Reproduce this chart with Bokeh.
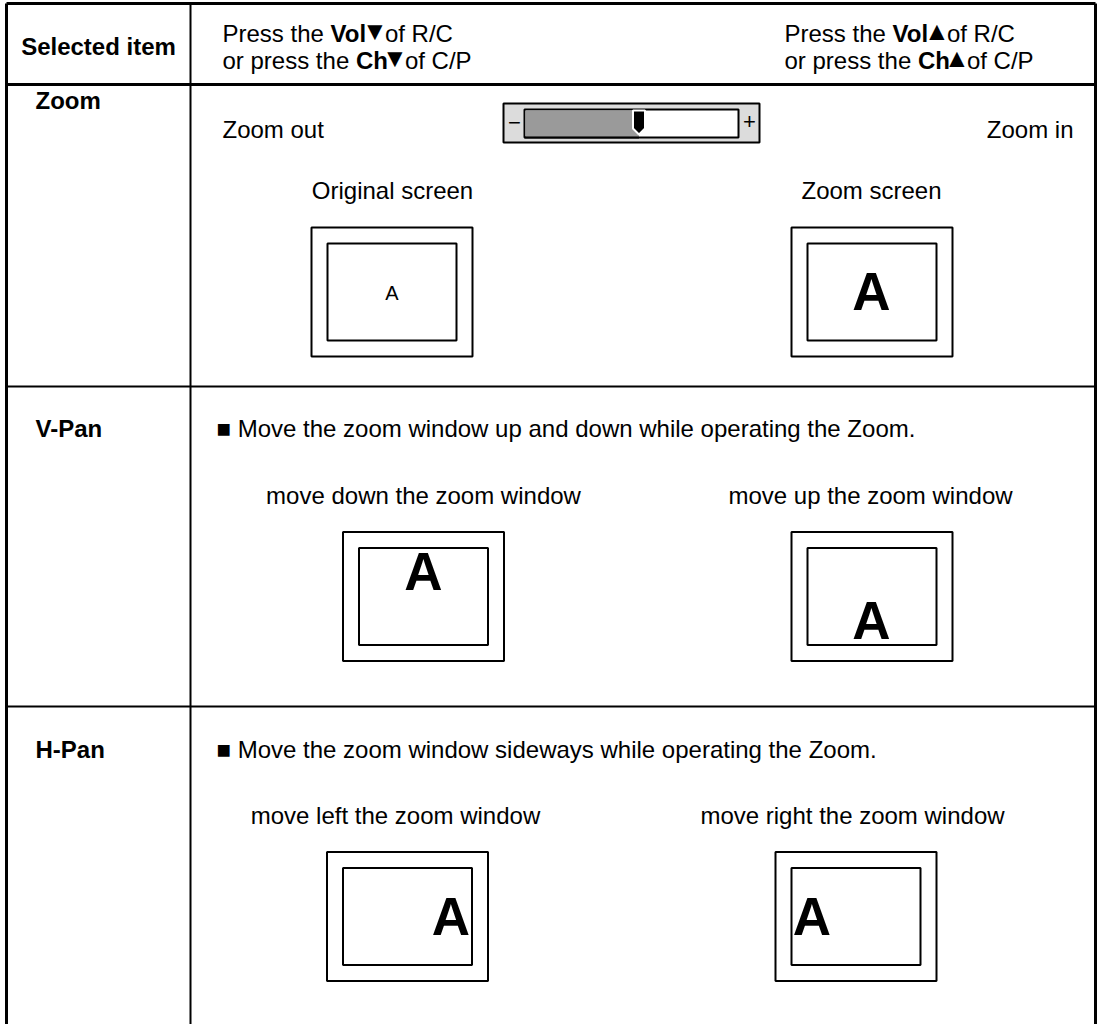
from bokeh.plotting import figure
from bokeh.models import Range1d
from bokeh.core.properties import value
from bokeh.embed import file_html
from bokeh.resources import INLINE

FONT = "Liberation Sans"
FS = 24  # body font size px

# ---- content ----
header_item = "Selected item"
header_left = [[("Press the ", "normal"), ("Vol", "bold"), ("\u25bc", "normal"), (" of R/C", "normal")],
               [("or press the ", "normal"), ("Ch", "bold"), ("\u25bc", "normal"), (" of C/P", "normal")]]
header_right = [[("Press the ", "normal"), ("Vol", "bold"), ("\u25b2", "normal"), (" of R/C", "normal")],
                [("or press the ", "normal"), ("Ch", "bold"), ("\u25b2", "normal"), (" of C/P", "normal")]]
row_labels = ["Zoom", "V-Pan", "H-Pan"]
row_notes = ["", "\u25a0 Move the zoom window up and down while operating the Zoom.",
             "\u25a0 Move the zoom window sideways while operating the Zoom."]
zoom_ends = ["Zoom out", "Zoom in"]
screen_titles = ["Original screen", "Zoom screen",
                 "move down the zoom window", "move up the zoom window",
                 "move left the zoom window", "move right the zoom window"]
zoom_level = 0.535   # share of the slider track that is filled

# ---- layout (reference pixel frame, 1 unit = 1 px) ----
W, H = 1100, 1024
TL, TR, TT = 6, 1095, 3          # table left/right/top
COL = 190                        # column divider
ROW_LINES = [84, 386, 706]
BOTTOM = H

# Arial / Liberation Sans advance widths (1/1000 em)
W_REG = {' ': 278, 'P': 667, 'r': 333, 'e': 556, 's': 500, 't': 278, 'h': 556, 'o': 556,
         'f': 278, 'R': 722, '/': 278, 'C': 722, 'p': 556}
W_BOLD = {'V': 667, 'o': 611, 'l': 278, 'C': 722, 'h': 611}
TRI_SIZE = 26


def seg_width(txt, weight, fs):
    tab = W_BOLD if weight == "bold" else W_REG
    return sum(tab.get(c, 556) for c in txt) / 1000.0 * fs


p = figure(width=W, height=H, x_range=Range1d(0, W), y_range=Range1d(H, 0),
           output_backend="svg", toolbar_location=None, min_border=0,
           x_axis_location=None, y_axis_location=None)
p.grid.visible = False
p.outline_line_color = None
p.background_fill_color = "white"
p.border_fill_color = "white"


def txt(x, y, s, size=FS, weight="normal", align="left", baseline="middle", color="black"):
    p.text(x=[x], y=[y], text=[s], text_font=value(FONT), text_font_size=f"{size}px",
           text_font_style=weight, text_align=align, text_baseline=baseline, text_color=color)


def rect(l, r, t, b, lw=2, fill=None, color="black"):
    p.quad(left=[l], right=[r], top=[t], bottom=[b], fill_color=fill,
           fill_alpha=1.0 if fill else 0.0, line_color=color, line_width=lw)


# ---- table grid ----
p.segment(x0=[TL, TR, COL], y0=[TT, TT, TT], x1=[TL, TR, COL], y1=[BOTTOM, BOTTOM, BOTTOM],
          line_color="black", line_width=[3, 3, 2])
p.segment(x0=[TL], y0=[TT], x1=[TR], y1=[TT], line_color="black", line_width=3)
p.segment(x0=[TL] * 3, y0=ROW_LINES, x1=[TR] * 3, y1=ROW_LINES, line_color="black",
          line_width=[3, 2, 2])

# ---- header ----
txt((TL + COL) / 2, 46, header_item, weight="bold", align="center")


def mixed(x0, y, segs):
    x = x0
    for s, w in segs:
        if s in ("\u25bc", "\u25b2"):
            tx = x - 6
            txt(tx, y - 2.5, s, size=TRI_SIZE, weight="normal")
            x = tx + 23
        else:
            txt(x, y, s, weight=w)
            x += seg_width(s, w, FS)


for i, line in enumerate(header_left):
    mixed(222, [33, 60][i], line)
for i, line in enumerate(header_right):
    mixed(784, [33, 60][i], line)

# ---- row labels & notes ----
label_y = [100, 428, 749]
for lab, ly in zip(row_labels, label_y):
    txt(35, ly, lab, weight="bold")
for note, ly in zip(row_notes, label_y):
    if note:
        txt(216, ly, note)

# ---- Zoom row ----
txt(222, 129, zoom_ends[0])
txt(1073, 129, zoom_ends[1], align="right")

# slider
SL, SR, ST, SB = 503, 759, 103, 142
TLx, TRx, TTy, TBy = 524, 738, 109, 137
rect(SL, SR, ST, SB, lw=2, fill="#dcdcdc")
rect(TLx, TRx, TTy, TBy, lw=2, fill="white")
fill_r = TLx + zoom_level * (TRx - TLx)
p.quad(left=[TLx + 1], right=[fill_r], top=[TTy + 1], bottom=[TBy - 1],
       fill_color="#9a9a9a", line_color=None)
p.line(x=[TLx, fill_r], y=[TBy, TBy], line_color="black", line_width=2)
p.patch(x=[fill_r - 6, fill_r + 6, fill_r + 6, fill_r, fill_r - 6],
        y=[TTy + 1, TTy + 1, 128, 134, 128], fill_color="black", line_color="white", line_width=2)
txt(514, 122, "\u2212", size=22, align="center")
txt(749, 121, "+", size=22, align="center")

# ---- screens ----
BIG = 53


def screen(cx, cy, title, tx, letter, lx, ly, lsize, lweight, outer=(161, 129), inset=16):
    ow, oh = outer
    l, r, t, b = cx - ow / 2, cx + ow / 2, cy - oh / 2, cy + oh / 2
    rect(l, r, t, b, lw=2)
    rect(l + inset, r - inset, t + inset, b - inset, lw=2)
    txt(tx, t - 37, title, align="center")
    txt(lx, ly, letter, size=lsize, weight=lweight, align="center")


screen(391.5, 291.5, screen_titles[0], 392, "A", 391.5, 292, 20, "normal")
screen(871.5, 291.5, screen_titles[1], 871, "A", 871, 291, BIG, "bold")
screen(423, 596, screen_titles[2], 423, "A", 423, 571, BIG, "bold")
screen(871.5, 596, screen_titles[3], 870, "A", 871, 620, BIG, "bold")
screen(407, 916, screen_titles[4], 395, "A", 450.5, 916, BIG, "bold")
screen(855.5, 916, screen_titles[5], 852, "A", 811.5, 916, BIG, "bold")

open("out.html", "w").write(file_html(p, INLINE))
